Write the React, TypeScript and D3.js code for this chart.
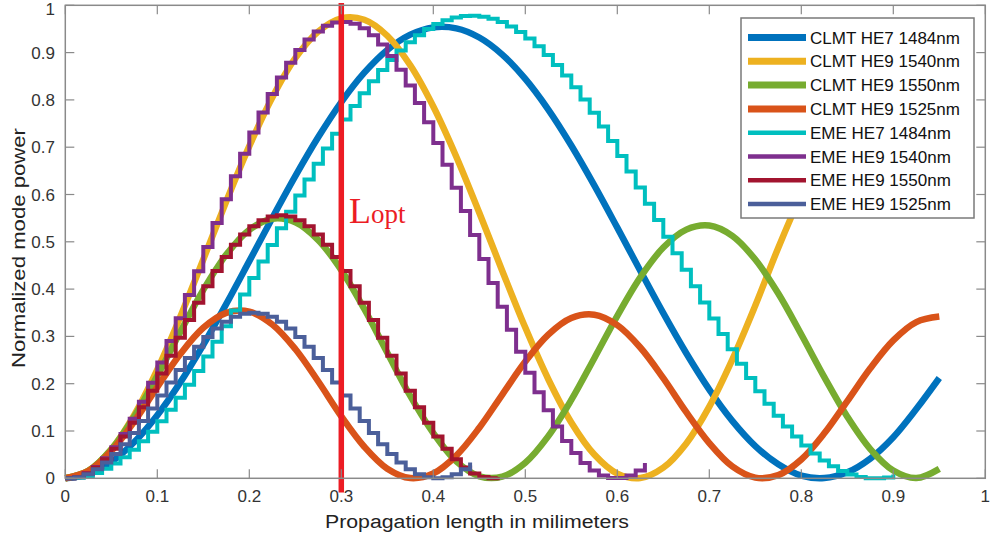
import React from 'react';
import * as d3 from 'd3';

// ---------- data ----------
const tickValues = [0, 0.1, 0.2, 0.3, 0.4, 0.5, 0.6, 0.7, 0.8, 0.9, 1];
const tickLabels = ['0', '0.1', '0.2', '0.3', '0.4', '0.5', '0.6', '0.7', '0.8', '0.9', '1'];

// CLMT curves sampled every 0.025 mm
const clmtStep = 0.025;
const clmtHE7_1484 = [0, .0087, .0346, .0767, .1334, .2028, .2822, .3687, .4591, .5503, .6388, .7214, .7954, .8575, .9056, .9379, .9533, .9512, .9319, .8958, .8444, .7796, .7036, .6193, .5299, .4387, .3491, .2644, .1876, .1215, .0682, .0296, .0056, .0004, .0126, .0418, .0869, .1464, .212];
const clmtHE9_1540 = [0, .0156, .0613, .1342, .2297, .3415, .4627, .5855, .7022, .8052, .8882, .9447, .9725, .9694, .9356, .8731, .786, .6799, .5615, .4384, .3186, .2095, .1181, .0503, .01, .0006, .0224, .0738, .1516, .2509, .3653, .4875, .6, .7, .79, .86, .9, .92, .91];
const clmtHE9_1550 = [0, .0157, .0609, .1306, .2166, .3094, .3983, .4729, .5253, .5489, .5414, .5036, .4402, .3579, .2653, .174, .0955, .0357, .0043, .0035, .033, .0892, .1657, .2539, .3435, .4248, .4878, .5257, .5343, .5125, .4625, .3907, .3041, .214, .1303, .0618, .0164, .0005, .02];
const clmtHE9_1525 = [0, .015, .0576, .1204, .1929, .2628, .3183, .3499, .3523, .3252, .2733, .2047, .131, .0667, .0202, .0004, .0104, .0481, .1069, .1771, .2467, .3038, .3389, .3459, .3238, .2765, .2117, .1397, .0745, .0252, .0015, .0067, .0398, .0951, .1632, .2327, .2916, .3303, .3419];

// EME curves sampled every 0.01 mm (drawn as stairs)
const emeStep = 0.01;
const emeHE7_1484 = [0, .0013, .005, .0113, .02, .0312, .0447, .0605, .0785, .0986, .1207, .1447, .1705, .198, .227, .2573, .2888, .3213, .3547, .3888, .4234, .4583, .4934, .5285, .5633, .5978, .6317, .6649, .6972, .7284, .7584, .787, .8141, .8395, .8631, .8846, .9042, .9217, .9369, .9498, .9604, .9685, .9741, .9773, .9779, .976, .9716, .9647, .9554, .9437, .9296, .9132, .8947, .874, .8514, .8269, .8007, .7729, .7436, .713, .6812, .6484, .6148, .5806, .5459, .5109, .4758, .4408, .406, .3716, .3379, .3049, .273, .242, .2123, .1841, .1575, .1325, .1095, .0883, .0692, .0523, .0376, .0253, .0154, .0079, .0028, .0003, .0003, .0019, .0079];
const emeHE9_1540 = [0, .0027, .0107, .024, .0424, .0657, .0937, .126, .162, .2019, .2449, .2905, .3383, .3876, .438, .4889, .5397, .5899, .6388, .6861, .7311, .7733, .8123, .8475, .8787, .9056, .9276, .9448, .9568, .9635, .9648, .9608, .9515, .9369, .9172, .8927, .8637, .8304, .7932, .7525, .7089, .6627, .6145, .5649, .5143, .4634, .4127, .3628, .3141, .2674, .2231, .1817, .1437, .1093, .0791, .0535, .0326, .0167, .006, .0007, .0007, .006, .0167, .0326];
const emeHE9_1550 = [0, .0026, .0103, .023, .0405, .0624, .0883, .1177, .1501, .1849, .2214, .259, .297, .3346, .3711, .4059, .4383, .4678, .4936, .5155, .533, .5457, .5534, .556, .5534, .5457, .533, .5155, .4936, .4678, .4383, .4059, .3711, .3346, .297, .259, .2214, .1849, .1501, .1177, .0883, .0624, .0405, .023, .0103, .0026, 0, .0026];
const emeHE9_1525 = [0, .0022, .0086, .0191, .0334, .0513, .0721, .0956, .1209, .1476, .175, .2024, .2291, .2545, .2779, .2987, .3166, .3309, .3414, .3478, .35, .3478, .3414, .3309, .3166, .2987, .2779, .2545, .2291, .2024, .175, .1476, .1209, .0956, .0721, .0513, .0334, .0191, .0086, .0022, 0, .0022, .0086, .0191, .0334];

const lOpt = 0.3;

const seriesNames = [
  'CLMT HE7 1484nm', 'CLMT HE9 1540nm', 'CLMT HE9 1550nm', 'CLMT HE9 1525nm',
  'EME HE7 1484nm', 'EME HE9 1540nm', 'EME HE9 1550nm', 'EME HE9 1525nm',
];
const seriesColors = ['#0072BD', '#EDB120', '#77AC30', '#D95319', '#00BFBF', '#7E2F8E', '#A2142F', '#4B5F9A'];
const seriesData = [clmtHE7_1484, clmtHE9_1540, clmtHE9_1550, clmtHE9_1525, emeHE7_1484, emeHE9_1540, emeHE9_1550, emeHE9_1525];
const seriesIsEme = [false, false, false, false, true, true, true, true];

// ---------- layout ----------
const W = 990;
const H = 540;
const left = 65.3, right = 985.3, top = 5.3, bottom = 478.3;
const font = '"Liberation Sans", Arial, Helvetica, sans-serif';

export default function App() {
  const x = d3.scaleLinear().domain([0, 1]).range([left, right]);
  const y = d3.scaleLinear().domain([0, 1]).range([bottom, top]);

  const smooth = d3.line<number>()
    .x((_, i) => x(i * clmtStep))
    .y((d) => y(d))
    .curve(d3.curveCatmullRom.alpha(0.5));
  const stairs = d3.line<number>()
    .x((_, i) => x(i * emeStep))
    .y((d) => y(d))
    .curve(d3.curveStepAfter);

  const axisColor = '#8a8a8a';
  const textColor = '#333';
  const tickLen = 9;

  const legX = 741, legY = 18, legW = 233, legH = 200;
  const rowY0 = 37.5, rowDy = 23.8;

  return (
    <svg width={W} height={H} style={{ position: 'absolute', left: 0, top: 0, background: '#fff' }}>
      <rect x={0} y={0} width={W} height={H} fill="#fff" />
      {/* series */}
      <g fill="none">
        {seriesData.map((data, k) => (
          <path
            key={k}
            d={(seriesIsEme[k] ? stairs : smooth)(data) || ''}
            stroke={seriesColors[k]}
            strokeWidth={seriesIsEme[k] ? 4 : 6.5}
            strokeLinejoin={seriesIsEme[k] ? 'miter' : 'round'}
            strokeLinecap="butt"
          />
        ))}
      </g>
      {/* L_opt marker */}
      <line x1={x(lOpt)} x2={x(lOpt)} y1={y(-0.03)} y2={y(1.005)} stroke="#EC1C24" strokeWidth={5.5} />
      <text x={349} y={223} fill="#EC1C24" fontFamily='"Liberation Serif", "Times New Roman", serif'>
        <tspan fontSize={36}>L</tspan>
        <tspan fontSize={27}>opt</tspan>
      </text>

      {/* axes box */}
      <rect x={left} y={top} width={right - left} height={bottom - top} fill="none" stroke={axisColor} strokeWidth={1.5} />
      {tickValues.map((t, i) => (
        <g key={'xt' + i}>
          <line x1={x(t)} x2={x(t)} y1={bottom} y2={bottom - tickLen} stroke={axisColor} strokeWidth={1.2} />
          <line x1={x(t)} x2={x(t)} y1={top} y2={top + tickLen} stroke={axisColor} strokeWidth={1.2} />
          <text x={x(t)} y={502} textAnchor="middle" fontSize={17} fontFamily={font} fill={textColor}>{tickLabels[i]}</text>
        </g>
      ))}
      {tickValues.map((t, i) => (
        <g key={'yt' + i}>
          <line x1={left} x2={left + tickLen} y1={y(t)} y2={y(t)} stroke={axisColor} strokeWidth={1.2} />
          <line x1={right} x2={right - tickLen} y1={y(t)} y2={y(t)} stroke={axisColor} strokeWidth={1.2} />
          <text x={55} y={Math.max(y(t) + 6, 15)} textAnchor="end" fontSize={17} fontFamily={font} fill={textColor}>{tickLabels[i]}</text>
        </g>
      ))}
      <text x={477} y={528} textAnchor="middle" fontSize={18} fontFamily={font} fill="#222" textLength={304} lengthAdjust="spacingAndGlyphs">
        Propagation length in milimeters
      </text>
      <text
        transform={`translate(25, ${248}) rotate(-90)`}
        textAnchor="middle" fontSize={18} fontFamily={font} fill="#222" textLength={240} lengthAdjust="spacingAndGlyphs"
      >
        Normalized mode power
      </text>

      {/* legend */}
      <rect x={legX} y={legY} width={legW} height={legH} fill="#fff" stroke="#7a7a7a" strokeWidth={1.5} />
      {seriesNames.map((name, k) => (
        <g key={'lg' + k}>
          <line x1={748} x2={806} y1={rowY0 + k * rowDy} y2={rowY0 + k * rowDy} stroke={seriesColors[k]} strokeWidth={seriesIsEme[k] ? 4.5 : 7} />
          <text x={810} y={rowY0 + k * rowDy + 6} fontSize={17} fontFamily={font} fill="#111">{name}</text>
        </g>
      ))}
    </svg>
  );
}
